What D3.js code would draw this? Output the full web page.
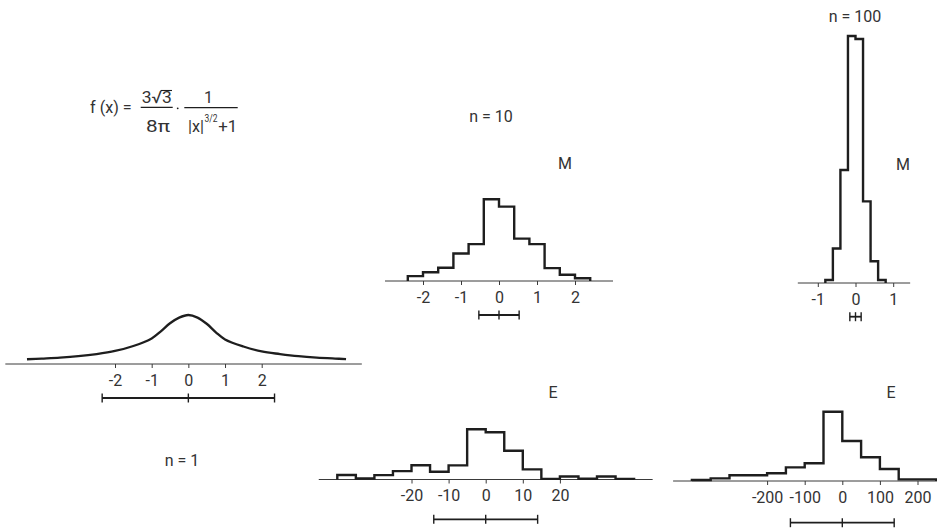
<!DOCTYPE html>
<html>
<head>
<meta charset="utf-8">
<script src="https://cdn.jsdelivr.net/npm/d3@7"></script>
<style>
  html, body { margin: 0; padding: 0; background: #fff; }
  svg text { font-family: Roboto, "Liberation Sans", Arial, sans-serif; font-weight: 400; font-size: 16px; fill: #333; }
</style>
</head>
<body>
<svg id="chart" width="937" height="528"></svg>
<script>
// ---- single observation: density f(x) = 3√3/(8π) · 1/(|x|^{3/2}+1) ----
const densityX = [-4.4, -4, -3.5, -3, -2.5, -2, -1.5, -1, -0.75, -0.5, -0.25, 0,
                  0.25, 0.5, 0.75, 1, 1.5, 2, 2.5, 3, 3.5, 4, 4.3];
const densityY = [0.020, 0.023, 0.027, 0.033, 0.042, 0.055, 0.076, 0.108, 0.138, 0.172, 0.196, 0.207,
                  0.196, 0.170, 0.134, 0.104, 0.074, 0.053, 0.042, 0.033, 0.027, 0.023, 0.021];
const densityTicks = [-2, -1, 0, 1, 2];
const densitySpread = [-2.35, 2.35];

// ---- n = 10, M : relative frequency (%) per bin ----
const m10Edges = [-2.4, -2.0, -1.6, -1.2, -0.8, -0.4, 0, 0.4, 0.8, 1.2, 1.6, 2.0, 2.4];
const m10Freq  = [1.4, 2.5, 3.8, 7.9, 10.6, 23.5, 21.4, 12.2, 10.6, 3.7, 1.8, 0.8];
const m10Ticks = [-2, -1, 0, 1, 2];
const m10Spread = [-0.53, 0.53];

// ---- n = 100, M ----
const m100Edges = [-0.8, -0.6, -0.4, -0.2, 0, 0.2, 0.4, 0.6, 0.8];
const m100Freq  = [0.4, 4.6, 15.1, 33.0, 32.6, 10.9, 2.9, 0.4];
const m100Ticks = [-1, 0, 1];
const m100Spread = [-0.15, 0.15];

// ---- n = 10, E ----
const e10Edges = [-40, -35, -30, -25, -20, -15, -10, -5, 0, 5, 10, 15, 20, 25, 30, 35, 40];
const e10Freq  = [2.3, 0.5, 2.2, 4.2, 7.2, 3.9, 7.1, 25.3, 23.8, 14.5, 5.1, 0.3, 1.5, 0.4, 1.5, 0.3];
const e10Ticks = [-20, -10, 0, 10, 20];
const e10Spread = [-14, 14];

// ---- n = 100, E ----
const e100Edges = [-400, -350, -300, -250, -200, -150, -100, -50, 0, 50, 100, 150, 200, 250];
const e100Freq  = [0.5, 1.3, 2.8, 2.8, 3.8, 6.7, 8.7, 34.1, 19.7, 11.7, 5.9, 0.8, 0.8];
const e100Ticks = [-200, -100, 0, 100, 200];
const e100Spread = [-138, 138];

// ---- captions ----
const sampleLabels = ["n = 1", "n = 10", "n = 100"];
const statLabels = ["M", "M", "E", "E"];

const svg = d3.select("#chart");
const INK = "#1e1e1e";

const fmt = d => (d < 0 ? "-" + Math.abs(d) : String(d));

// Panel layout: x scale maps tick domain onto pixels; baseline/peak give the y range.
const panels = [
  { kind: "curve", xs: densityX, ys: densityY, ticks: densityTicks, spread: densitySpread,
    dom: [-2, 2], rng: [115, 261.7], axis: [-4.99, 4.73], base: 364, top: 315, errY: 398 },
  { kind: "hist", edges: m10Edges, freq: m10Freq, ticks: m10Ticks, spread: m10Spread,
    dom: [-2, 2], rng: [423, 575], axis: [-3, 3], base: 281, top: 199.3, errY: 315 },
  { kind: "hist", edges: m100Edges, freq: m100Freq, ticks: m100Ticks, spread: m100Spread,
    dom: [-1, 1], rng: [817.8, 893.2], axis: [-1.53, 1.45], base: 283, top: 36, errY: 316.7 },
  { kind: "hist", edges: e10Edges, freq: e10Freq, ticks: e10Ticks, spread: e10Spread,
    dom: [-20, 20], rng: [411.5, 559.9], axis: [-45, 45], base: 479.5, top: 429.3, errY: 519.3 },
  { kind: "hist", edges: e100Edges, freq: e100Freq, ticks: e100Ticks, spread: e100Spread,
    dom: [-200, 200], rng: [767.1, 917.5], axis: [-450, 252], base: 481, top: 411.7, errY: 522.7 }
];

panels.forEach(p => {
  const x = d3.scaleLinear().domain(p.dom).range(p.rng);
  const g = svg.append("g");

  // baseline
  g.append("line")
    .attr("x1", x(p.axis[0])).attr("x2", x(p.axis[1]))
    .attr("y1", p.base).attr("y2", p.base)
    .attr("stroke", "#3a3a3a").attr("stroke-width", 1);

  // ticks and labels
  const ax = g.append("g").attr("transform", `translate(0,${p.base})`)
    .call(d3.axisBottom(x).tickValues(p.ticks).tickSize(4).tickPadding(6.5).tickFormat(fmt));
  ax.attr("font-size", null).attr("font-family", null);
  ax.select(".domain").remove();
  ax.selectAll(".tick line").attr("stroke", "#3a3a3a").attr("stroke-width", 1);

  if (p.kind === "curve") {
    const y = d3.scaleLinear().domain([0, d3.max(p.ys)]).range([p.base, p.top]);
    const pts = p.xs.map((v, i) => [v, p.ys[i]]);
    g.append("path")
      .attr("d", d3.line().x(d => x(d[0])).y(d => y(d[1])).curve(d3.curveCatmullRom.alpha(0.5))(pts))
      .attr("fill", "none").attr("stroke", INK).attr("stroke-width", 2.3);
  } else {
    const y = d3.scaleLinear().domain([0, d3.max(p.freq)]).range([p.base, p.top]);
    const pts = [[p.edges[0], 0]];
    p.freq.forEach((v, i) => { pts.push([p.edges[i], v]); pts.push([p.edges[i + 1], v]); });
    pts.push([p.edges[p.edges.length - 1], 0]);
    g.append("path")
      .attr("d", d3.line().x(d => x(d[0])).y(d => y(d[1]))(pts))
      .attr("fill", "none").attr("stroke", INK).attr("stroke-width", 2.4)
      .attr("stroke-linejoin", "miter");
  }

  // spread bar with centre mark
  const eb = g.append("g").attr("stroke", INK).attr("stroke-width", 1.8);
  eb.append("line").attr("x1", x(p.spread[0])).attr("x2", x(p.spread[1]))
    .attr("y1", p.errY).attr("y2", p.errY);
  [p.spread[0], 0, p.spread[1]].forEach(v => {
    eb.append("line").attr("x1", x(v)).attr("x2", x(v))
      .attr("y1", p.errY - 4.5).attr("y2", p.errY + 4.5).attr("stroke-width", 1.4);
  });
});

// captions
const captionPos = [[182, 466], [491, 122], [855, 21.5]];
sampleLabels.forEach((t, i) => {
  svg.append("text").attr("x", captionPos[i][0]).attr("y", captionPos[i][1])
    .attr("text-anchor", "middle").text(t);
});
const statPos = [[565, 169], [903, 170], [553, 397.5], [891, 398]];
statLabels.forEach((t, i) => {
  svg.append("text").attr("x", statPos[i][0]).attr("y", statPos[i][1])
    .attr("text-anchor", "middle").text(t);
});

// formula f(x) = 3√3/(8π) · 1/(|x|^{3/2}+1)
const fg = svg.append("g");
const ftext = (x, y, t, w, size) => {
  const el = fg.append("text").attr("x", x).attr("y", y).text(t);
  if (w) el.attr("textLength", w).attr("lengthAdjust", "spacingAndGlyphs");
  if (size) el.style("font-size", size + "px");
  return el;
};
ftext(90, 113, "f (x) =", 41.7, 17);
ftext(141.7, 103, "3√3", 30, 17);
fg.append("line").attr("x1", 160.5).attr("x2", 172).attr("y1", 90.5).attr("y2", 90.5)
  .attr("stroke", INK).attr("stroke-width", 1.1);
fg.append("line").attr("x1", 140.7).attr("x2", 172.7).attr("y1", 107.3).attr("y2", 107.3)
  .attr("stroke", INK).attr("stroke-width", 1.2);
ftext(146, 131.5, "8π", 24, 17);
fg.append("circle").attr("cx", 177.7).attr("cy", 108.3).attr("r", 0.9).attr("fill", INK);
ftext(204, 103, "1", 9, 17);
fg.append("line").attr("x1", 184.3).attr("x2", 237.7).attr("y1", 107.7).attr("y2", 107.7)
  .attr("stroke", INK).attr("stroke-width", 1.2);
ftext(188, 131.5, "|x|", 16, 17);
ftext(204.5, 121.5, "3/2", 13, 10);
ftext(218.3, 131.5, "+1", 19, 17);
</script>
</body>
</html>
